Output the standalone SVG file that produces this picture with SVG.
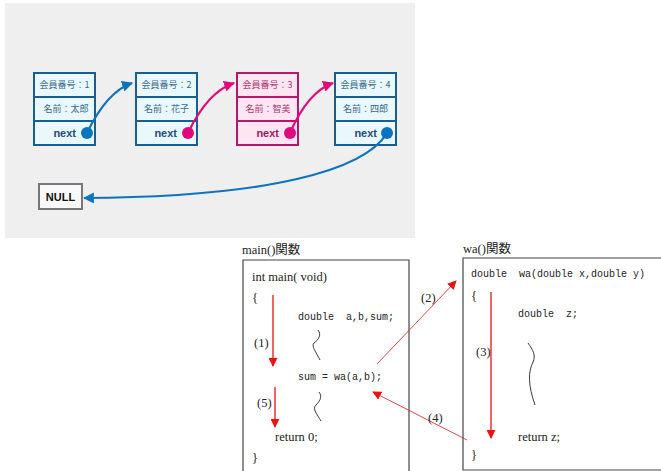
<svg xmlns="http://www.w3.org/2000/svg" width="661" height="471" viewBox="0 0 661 471">
<defs>
<style>
.nd{fill:#e9f8fd;stroke:#1b5e8e;stroke-width:2}
.nd3{fill:#fde6f1;stroke:#b5176d;stroke-width:2}
.lb{font-family:"Noto Sans CJK JP","Noto Sans",sans-serif;font-size:9px;fill:#3d6a8c;text-anchor:middle}
.lb3{fill:#b0336f}
.nx{font-family:"Liberation Sans",Arial,sans-serif;font-size:11px;font-weight:bold;fill:#1d4b78;text-anchor:end}
.nx3{fill:#a3165f}
.bl{fill:none;stroke:#0b74c0;stroke-width:2.2}
.pk{fill:none;stroke:#e2097c;stroke-width:2.2}
.mono{font-family:"Liberation Mono","DejaVu Sans Mono",monospace;font-size:10px;fill:#222;white-space:pre}
.ser{font-family:"Liberation Serif","Noto Sans CJK JP",serif;font-size:12.5px;fill:#222}
.red{stroke:#e11;stroke-width:1.3;fill:none}
.thin{stroke:#d33;stroke-width:0.9;fill:none}
.sq{stroke:#222;stroke-width:0.9;fill:none}
.box{fill:#fff;stroke:#444;stroke-width:1.2}
</style>
<marker id="ab" viewBox="0 0 10 10" refX="9" refY="5" markerWidth="5" markerHeight="5" markerUnits="strokeWidth" orient="auto"><path d="M0,0L10,5L0,10z" fill="#0b74c0"/></marker>
<marker id="ap" viewBox="0 0 10 10" refX="9" refY="5" markerWidth="5" markerHeight="5" markerUnits="strokeWidth" orient="auto"><path d="M0,0L10,5L0,10z" fill="#e2097c"/></marker>
<marker id="ar" viewBox="0 0 10 10" refX="9" refY="5" markerWidth="9" markerHeight="9" markerUnits="userSpaceOnUse" orient="auto"><path d="M0,0L10,5L0,10z" fill="#e11"/></marker>
</defs>
<rect x="5" y="3" width="410" height="235" fill="#efefef"/>

<g id="node1">
<rect class="nd" x="34" y="73" width="61" height="72"/>
<line class="nd" x1="34" y1="97" x2="95" y2="97"/><line class="nd" x1="34" y1="121" x2="95" y2="121"/>
<text class="lb" x="64.5" y="88">会員番号：1</text>
<text class="lb" x="66" y="112">名前：太郎</text>
<text class="nx" x="76" y="137">next</text>
<circle cx="87" cy="133" r="6" fill="#0b74c0"/>
</g>
<g id="node2">
<rect class="nd" x="136" y="73" width="61" height="72"/>
<line class="nd" x1="136" y1="97" x2="197" y2="97"/><line class="nd" x1="136" y1="121" x2="197" y2="121"/>
<text class="lb" x="166.5" y="88">会員番号：2</text>
<text class="lb" x="166.5" y="112">名前：花子</text>
<text class="nx" x="177" y="137">next</text>
<circle cx="188" cy="133" r="6" fill="#e2097c"/>
</g>
<g id="node3">
<rect class="nd3" x="237" y="73" width="61" height="72"/>
<line class="nd3" x1="237" y1="97" x2="298" y2="97"/><line class="nd3" x1="237" y1="121" x2="298" y2="121"/>
<text class="lb lb3" x="267.5" y="88">会員番号：3</text>
<text class="lb lb3" x="268" y="112">名前：智美</text>
<text class="nx nx3" x="279" y="137">next</text>
<circle cx="290" cy="133" r="6" fill="#e2097c"/>
</g>
<g id="node4">
<rect class="nd" x="335" y="73" width="61" height="72"/>
<line class="nd" x1="335" y1="97" x2="396" y2="97"/><line class="nd" x1="335" y1="121" x2="396" y2="121"/>
<text class="lb" x="365.5" y="88">会員番号：4</text>
<text class="lb" x="365.5" y="112">名前：四郎</text>
<text class="nx" x="377" y="137">next</text>
<circle cx="387" cy="133" r="6" fill="#0b74c0"/>
</g>
<g id="null">
<rect x="39" y="184" width="43" height="25" fill="#f8f8fa" stroke="#777" stroke-width="2"/>
<text x="60.5" y="201" font-family="Liberation Sans,Arial,sans-serif" font-size="11" font-weight="bold" fill="#111" text-anchor="middle">NULL</text>
</g>

<g id="main-func">
<text class="ser" x="242" y="254">main()関数</text>
<path class="box" d="M243,472V260H409V472"/>
<text class="ser" x="252" y="281">int main( void)</text>
<text class="ser" x="252" y="302">{</text>
<text class="mono" x="298" y="320" xml:space="preserve">double  a,b,sum;</text>
<text class="ser" x="254" y="347">(1)</text>
<text class="mono" x="298" y="380">sum = wa(a,b);</text>
<text class="ser" x="257" y="407">(5)</text>
<text class="ser" x="275" y="441">return 0;</text>
<text class="ser" x="252" y="462">}</text>
<path class="sq" d="M318,330C322,335 318,340 314,343C311,346 316,352 320,360"/>
<path class="sq" d="M319,392C323,397 319,402 316,405C312,409 317,414 321,421"/>
</g>

<g id="wa-func">
<text class="ser" x="463" y="253">wa()関数</text>
<path class="box" d="M663,258H463V470H663"/>
<text class="mono" x="471" y="277" xml:space="preserve">double  wa(double x,double y)</text>
<text class="ser" x="471" y="300">{</text>
<text class="mono" x="518" y="317" xml:space="preserve">double  z;</text>
<text class="ser" x="476" y="356">(3)</text>
<text class="ser" x="518" y="441">return z;</text>
<text class="ser" x="471" y="459">}</text>
<path class="sq" d="M528,343C533,350 536,355 533,362C528,372 528,385 535,405"/>
</g>

<g id="connectors">
<path class="bl" d="M87,133C98,110 112,90 132,83" marker-end="url(#ab)"/>
<path class="pk" d="M188,133C199,110 213,90 234,83" marker-end="url(#ap)"/>
<path class="pk" d="M290,133C300,110 313,90 333,83" marker-end="url(#ap)"/>
<path class="bl" d="M387,133C365,170 270,197 84,198" marker-end="url(#ab)"/>
<line class="red" x1="273" y1="295" x2="273" y2="366" marker-end="url(#ar)"/>
<line class="red" x1="275" y1="387" x2="275" y2="427" marker-end="url(#ar)"/>
<line class="red" x1="491" y1="292" x2="491" y2="438" marker-end="url(#ar)"/>
<line class="thin" x1="377" y1="364" x2="456" y2="281" marker-end="url(#ar)"/>
<line class="thin" x1="467" y1="440" x2="373" y2="392" marker-end="url(#ar)"/>
<text class="ser" x="421" y="302">(2)</text>
<text class="ser" x="428" y="422">(4)</text>
</g>
</svg>
